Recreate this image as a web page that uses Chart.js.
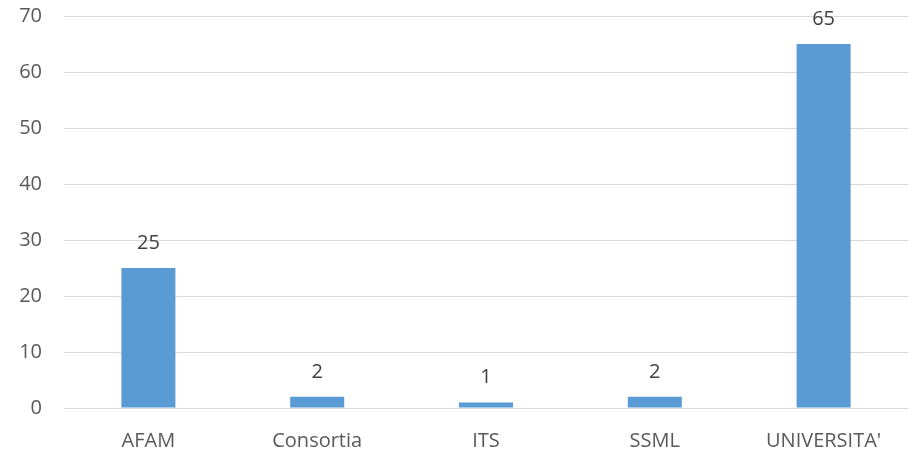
<!DOCTYPE html>
<html><head><meta charset="utf-8">
<script src="https://cdn.jsdelivr.net/npm/chart.js@4/dist/chart.umd.min.js"></script>
<style>html,body{margin:0;padding:0;background:#fff}#wrap{width:912px;height:452px}</style>
</head><body><div id="wrap"><canvas id="c" width="912" height="452"></canvas></div>
<script>
const categories = ["AFAM", "Consortia", "ITS", "SSML", "UNIVERSITA'"];
const values = [25, 2, 1, 2, 65];
const yMin = 0, yMax = 70, yStep = 10;

const FONT = "'Open Sans', sans-serif";
const FSIZE = 20;

const labelPlugin = {
  id: 'valueLabels',
  afterDatasetsDraw(chart) {
    const ctx = chart.ctx;
    const meta = chart.getDatasetMeta(0);
    ctx.save();
    ctx.fillStyle = '#404040';
    ctx.font = FSIZE + "px " + FONT;
    ctx.textAlign = 'center';
    ctx.textBaseline = 'middle';
    meta.data.forEach((bar, i) => {
      ctx.fillText(String(values[i]), bar.x, bar.y - 25);
    });
    ctx.restore();
  }
};

new Chart(document.getElementById('c'), {
  type: 'bar',
  data: {
    labels: categories,
    datasets: [{
      data: values,
      backgroundColor: '#5B9BD5',
      borderWidth: 0,
      categoryPercentage: 1,
      barPercentage: 0.32
    }]
  },
  options: {
    responsive: false,
    animation: false,
    devicePixelRatio: 1,
    layout: { padding: { top: 0, right: 4, left: 0, bottom: 0 } },
    plugins: { legend: { display: false }, tooltip: { enabled: false } },
    scales: {
      x: {
        grid: { display: false, drawTicks: false },
        border: { display: false },
        ticks: { color: '#595959', font: { family: FONT, size: FSIZE }, padding: 21, maxRotation: 0 },
        afterFit(s) { s.height = 44; }
      },
      y: {
        min: yMin, max: yMax,
        grid: { color: '#d9d9d9', lineWidth: 1, drawTicks: false },
        border: { display: false },
        ticks: { stepSize: yStep, color: '#595959', font: { family: FONT, size: FSIZE }, padding: 22 },
        afterFit(s) { s.width = 64; s.paddingTop = 16; }
      }
    }
  },
  plugins: [labelPlugin]
});
</script></body></html>
